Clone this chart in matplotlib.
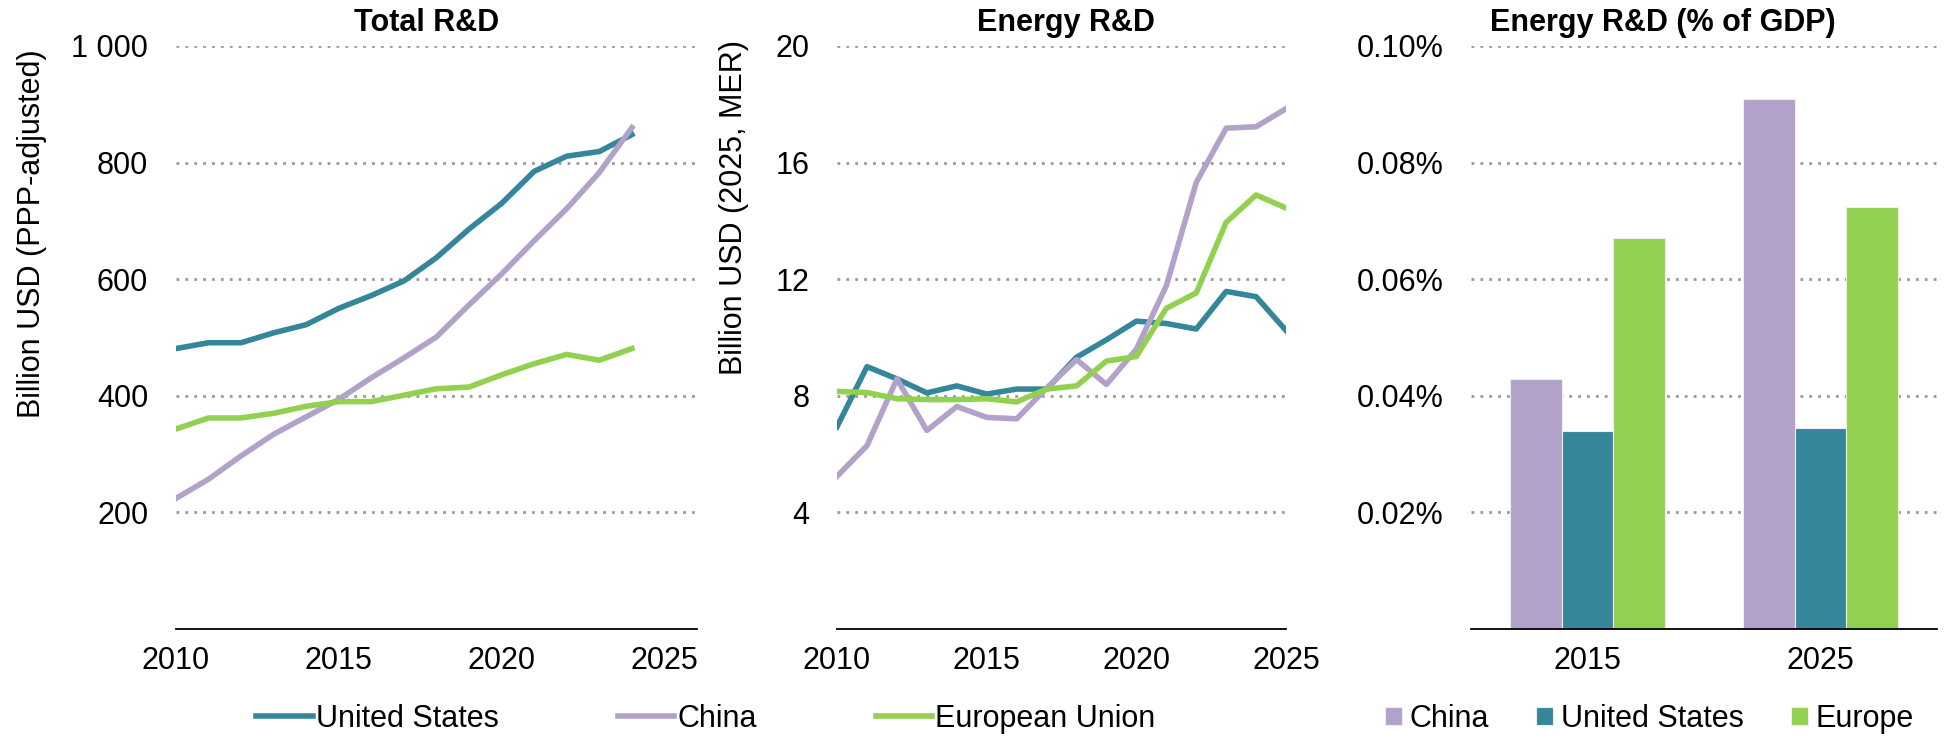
import matplotlib.pyplot as plt
from matplotlib.ticker import FuncFormatter

plt.rcParams['font.family'] = ['Liberation Sans', 'DejaVu Sans']

# ---- data ----
years_total = list(range(2010, 2025))
total_us = [481, 491, 491, 508, 522, 550, 572, 597, 637, 686, 730, 785, 811, 819, 848]
total_cn = [224, 257, 297, 334, 364, 394, 431, 465, 501, 556, 609, 666, 721, 783, 860]
total_eu = [343, 362, 362, 370, 382, 390, 390, 401, 412, 415, 436, 455, 471, 461, 481]

years_energy = list(range(2010, 2026))
energy_us = [6.94, 9.0, 8.58, 8.1, 8.34, 8.06, 8.23, 8.23, 9.32, 9.92, 10.56, 10.48, 10.29, 11.58, 11.4, 10.24]
energy_cn = [5.24, 6.29, 8.58, 6.81, 7.63, 7.26, 7.21, 8.26, 9.24, 8.39, 9.6, 11.77, 15.32, 17.18, 17.23, 17.85]
energy_eu = [8.15, 8.11, 7.9, 7.87, 7.87, 7.9, 7.79, 8.23, 8.34, 9.19, 9.35, 11.0, 11.53, 13.95, 14.89, 14.44]

gdp_years = ['2015', '2025']
gdp_cn = [0.0429, 0.0909]
gdp_us = [0.0339, 0.0344]
gdp_eu = [0.0671, 0.0724]

C_US = '#35869B'
C_CN = '#B2A1C8'
C_EU = '#92D050'
FS = 22

fig = plt.figure(figsize=(19.53, 7.38), dpi=100)
bottom, height = 0.1477, 0.79
ax1 = fig.add_axes([0.0901, bottom, 0.2668, height])
ax2 = fig.add_axes([0.4286, bottom, 0.2299, height])
ax3 = fig.add_axes([0.7532, bottom, 0.2386, height])


def style(ax):
    for s in ['top', 'right', 'left']:
        ax.spines[s].set_visible(False)
    ax.spines['bottom'].set_linewidth(1.3)
    ax.tick_params(axis='both', length=0, labelsize=FS)
    ax.tick_params(axis='y', pad=20)
    ax.tick_params(axis='x', pad=12)
    ax.yaxis.grid(True, color='#999999', linestyle=(0, (1, 2.2)), linewidth=2)
    ax.set_axisbelow(True)


# ---- panel 1: total R&D ----
style(ax1)
ax1.plot(years_total, total_us, color=C_US, lw=4, label='United States')
ax1.plot(years_total, total_cn, color=C_CN, lw=4, label='China')
ax1.plot(years_total, total_eu, color=C_EU, lw=4, label='European Union')
ax1.set_xlim(2010, 2026)
ax1.set_ylim(0, 1000)
ax1.set_xticks([2010, 2015, 2020, 2025])
ax1.set_yticks([200, 400, 600, 800, 1000])
ax1.set_yticklabels(['200', '400', '600', '800', '1 000'])

# ---- panel 2: energy R&D ----
style(ax2)
ax2.plot(years_energy, energy_us, color=C_US, lw=4)
ax2.plot(years_energy, energy_cn, color=C_CN, lw=4)
ax2.plot(years_energy, energy_eu, color=C_EU, lw=4)
ax2.set_xlim(2010, 2025)
ax2.set_ylim(0, 20)
ax2.set_xticks([2010, 2015, 2020, 2025])
ax2.set_yticks([4, 8, 12, 16, 20])

# ---- panel 3: energy R&D % of GDP ----
style(ax3)
w = 0.223
xs = range(len(gdp_years))
ax3.bar([x - w for x in xs], gdp_cn, w, color=C_CN, edgecolor='#EEEEF2', lw=0.8, label='China')
ax3.bar(list(xs), gdp_us, w, color=C_US, edgecolor='#EEEEF2', lw=0.8, label='United States')
ax3.bar([x + w for x in xs], gdp_eu, w, color=C_EU, edgecolor='#EEEEF2', lw=0.8, label='Europe')
ax3.set_xlim(-0.5, 1.5)
ax3.set_ylim(0, 0.1)
ax3.set_xticks(list(xs))
ax3.set_xticklabels(gdp_years)
ax3.set_yticks([0.02, 0.04, 0.06, 0.08, 0.10])
ax3.yaxis.set_major_formatter(FuncFormatter(lambda v, p: f'{v:.2f}%'))

# ---- titles / labels ----
fig.text(427 / 1953, 0.969, 'Total R&D', ha='center', va='center', fontsize=FS, fontweight='bold')
fig.text(1066 / 1953, 0.969, 'Energy R&D', ha='center', va='center', fontsize=FS, fontweight='bold')
fig.text(1663 / 1953, 0.969, 'Energy R&D (% of GDP)', ha='center', va='center', fontsize=FS, fontweight='bold')
fig.text(32 / 1953, 0.683, 'Billion USD (PPP-adjusted)', rotation=90, ha='center', va='center', fontsize=FS)
fig.text(734 / 1953, 0.719, 'Billion USD (2025, MER)', rotation=90, ha='center', va='center', fontsize=FS)

# ---- legends ----
h1, l1 = ax1.get_legend_handles_labels()
fig.legend(h1, l1, loc='center left', bbox_to_anchor=(256 / 1953, 0.0257), ncol=3,
           frameon=False, fontsize=FS, handlelength=1.85, handletextpad=0.1,
           columnspacing=3.9, borderpad=0, borderaxespad=0)
h3, l3 = ax3.get_legend_handles_labels()
fig.legend(h3, l3, loc='center left', bbox_to_anchor=(1385 / 1953, 0.0257), ncol=3,
           frameon=False, fontsize=FS, handlelength=0.55, handleheight=0.55,
           handletextpad=0.25, columnspacing=1.55, borderpad=0, borderaxespad=0)

fig.savefig('out.png', dpi=100)
